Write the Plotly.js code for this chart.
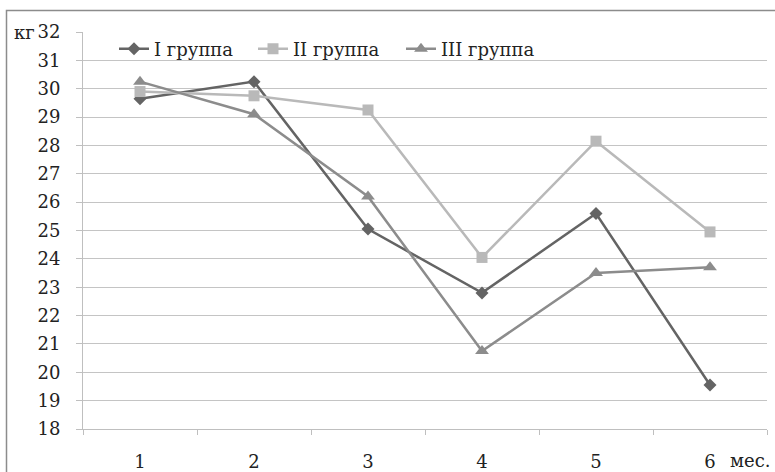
<!DOCTYPE html>
<html><head><meta charset="utf-8">
<script src="https://cdn.plot.ly/plotly-3.0.1.min.js"></script>
<style>html,body{margin:0;padding:0;background:#fff}#chart{width:775px;height:472px}</style>
</head><body><div id="chart"></div>
<script>
const months = ['1','2','3','4','5','6'];
const group1 = [29.65, 30.25, 25.05, 22.8, 25.6, 19.55];
const group2 = [29.9, 29.75, 29.25, 24.05, 28.15, 24.95];
const group3 = [30.25, 29.1, 26.2, 20.75, 23.5, 23.7];
const seriesNames = ['I группа','II группа','III группа'];
const yUnit = 'кг';
const xUnit = 'мес.';

const W = 775, H = 472;
const mL = 83, mR = 8, mT = 32, mB = 43;
const pw = W - mL - mR, ph = H - mT - mB;
const px = x => (x - mL) / pw;
const py = y => (H - mB - y) / ph;

const font = () => ({family: 'DejaVu Serif', size: 18, color: '#222'});
const colors = ['#646464', '#b9b9b9', '#8c8c8c'];
const symbols = ['diamond', 'square', 'triangle-up'];
const sizes = [10, 11, 12];
const series = [group1, group2, group3];
const legendIds = ['legend', 'legend2', 'legend3'];
const legendLeft = [114, 253, 401];

const traces = series.map((vals, i) => ({
  x: months, y: vals, type: 'scatter', mode: 'lines+markers',
  name: seriesNames[i], legend: legendIds[i],
  line: {color: colors[i], width: 2.5},
  marker: {symbol: symbols[i], size: sizes[i], color: colors[i]}
}));

const layout = {
  width: W, height: H,
  margin: {l: mL, r: mR, t: mT, b: mB, pad: 0},
  paper_bgcolor: '#fff', plot_bgcolor: '#fff',
  showlegend: true,
  font: font(),
  xaxis: {
    type: 'category', range: [-0.5, 5.5], tickson: 'boundaries', ticks: 'outside', ticklen: 5,
    tickcolor: '#bfbfbf', showline: true, linecolor: '#bfbfbf', linewidth: 1,
    showgrid: false, zeroline: false, tickfont: font(), ticklabelstandoff: 16
  },
  yaxis: {
    range: [18, 32], tick0: 18, dtick: 1, ticks: 'outside', ticklen: 6,
    tickcolor: '#bfbfbf', showline: true, linecolor: '#bfbfbf', linewidth: 1,
    showgrid: true, gridcolor: '#c4c4c4', gridwidth: 1, zeroline: false,
    tickfont: font(), ticklabelstandoff: 12
  },
  annotations: [
    {text: yUnit, xref: 'paper', yref: 'paper', x: px(24.5), y: py(32), xanchor: 'center', yanchor: 'middle', showarrow: false, font: font()},
    {text: xUnit, xref: 'paper', yref: 'paper', x: px(772), y: py(460), xanchor: 'right', yanchor: 'middle', showarrow: false, font: font()}
  ],
  shapes: [
    {type: 'rect', xref: 'paper', yref: 'paper', x0: px(6.5), x1: px(785), y0: py(490), y1: py(10.5),
     line: {color: '#8c8c8c', width: 1.5}}
  ]
};
legendIds.forEach((id, i) => {
  layout[id] = {
    orientation: 'h', x: px(legendLeft[i]), xanchor: 'left', y: py(49), yanchor: 'middle',
    bgcolor: 'rgba(0,0,0,0)', borderwidth: 0, font: font()
  };
});

Plotly.newPlot('chart', traces, layout, {staticPlot: true, displayModeBar: false});
</script></body></html>
